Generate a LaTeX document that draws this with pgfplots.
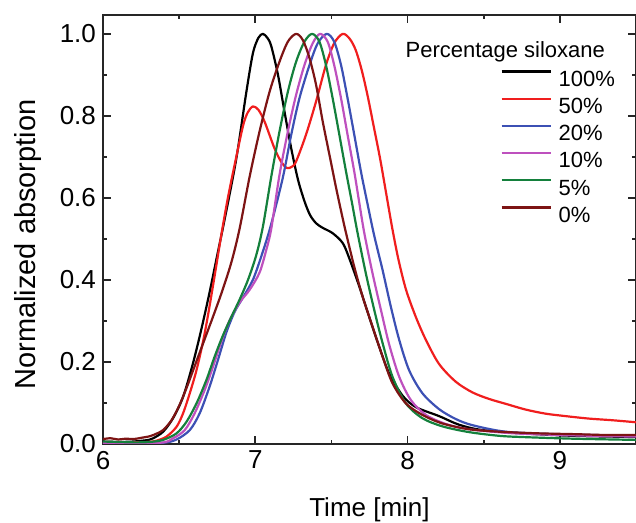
\documentclass[border=0pt]{standalone}
\usepackage{fontspec}
\setmainfont{Liberation Sans}
\usepackage{pgfplots}
\pgfplotsset{compat=1.18}

\definecolor{cRed}{RGB}{240,30,30}
\definecolor{cBlue}{RGB}{60,80,180}
\definecolor{cMag}{RGB}{190,80,190}
\definecolor{cGreen}{RGB}{20,128,60}
\definecolor{cMaroon}{RGB}{125,20,20}

\begin{document}
\begin{tikzpicture}
\begin{axis}[
  name=ax,
  scale only axis,
  width=266.5pt, height=214.5pt,
  xmin=6, xmax=9.5, ymin=0, ymax=1.046,
  xtick={6,7,8,9}, minor x tick num=1,
  ytick={0,0.2,0.4,0.6,0.8,1}, minor y tick num=1,
  tick align=inside,
  major tick length=4pt, minor tick length=2pt,
  axis line style={black!85, line width=0.8pt},
  tick style={black!85, line width=0.8pt},
  yticklabel style={/pgf/number format/fixed, /pgf/number format/fixed zerofill, /pgf/number format/precision=1},
  /pgf/number format/assume math mode=true,
  tick label style={font=\fontsize{13}{15}\selectfont},
  xlabel={Time [min]}, ylabel={Normalized absorption},
  xlabel style={font=\fontsize{13}{15}\selectfont, at={(axis description cs:0.5,-0.170)}, anchor=base},
  ylabel style={font=\fontsize{14.5}{16}\selectfont, at={(axis description cs:-0.126,0.465)}, anchor=base},
  legend style={at={(0.745,0.872)}, anchor=north west, draw=none, fill=none,
    inner sep=0pt, font=\fontsize{11}{13}\selectfont, row sep=5.6pt,
    nodes={inner sep=0pt, text height=8pt, text depth=0pt},
    /tikz/every odd column/.append style={column sep=3.5pt}},
  legend cell align=left,
  legend image code/.code={\draw[#1] (0pt,3.4pt) -- (24.5pt,3.4pt);},
  every axis plot/.append style={line width=1.1pt, line join=round, smooth, tension=0.5},
]
% 100%
\addplot[black] coordinates {
(6.0,0.006) (6.1,0.005) (6.2,0.006) (6.3,0.010) (6.33,0.014) (6.395,0.030)
(6.46,0.063) (6.526,0.115) (6.591,0.197) (6.646,0.28) (6.70,0.37) (6.75,0.46)
(6.80,0.55) (6.876,0.697) (6.94,0.855) (6.984,0.952) (7.02,0.99) (7.05,1.0)
(7.08,0.99) (7.105,0.97) (7.149,0.9) (7.192,0.81) (7.236,0.721) (7.28,0.645)
(7.323,0.592) (7.36,0.558) (7.40,0.538) (7.443,0.527) (7.508,0.514)
(7.574,0.490) (7.617,0.453) (7.683,0.384) (7.748,0.310) (7.814,0.237) (7.879,0.172)
(7.967,0.118) (8.054,0.090) (8.207,0.068) (8.338,0.047) (8.49,0.034) (8.75,0.026)
(9.08,0.020) (9.5,0.017)
};
\addlegendentry{100\%}
% 50%
\addplot[cRed] coordinates {
(6.0,0.005) (6.2,0.004) (6.3,0.005) (6.35,0.008) (6.417,0.018) (6.483,0.042)
(6.526,0.075) (6.57,0.124) (6.614,0.180) (6.657,0.250) (6.69,0.315) (6.733,0.41)
(6.777,0.51) (6.82,0.60) (6.864,0.680) (6.919,0.775) (6.95,0.808) (6.984,0.823)
(7.02,0.815) (7.061,0.786) (7.126,0.721) (7.17,0.688) (7.207,0.673) (7.24,0.676)
(7.268,0.689) (7.333,0.754) (7.399,0.835) (7.464,0.924) (7.518,0.977) (7.574,1.0)
(7.62,0.988) (7.66,0.96) (7.70,0.91) (7.74,0.845) (7.78,0.77) (7.82,0.695)
(7.86,0.61) (7.90,0.525) (7.94,0.45) (7.99,0.376) (8.054,0.310) (8.12,0.254)
(8.207,0.195) (8.316,0.152) (8.425,0.126) (8.534,0.110) (8.644,0.098) (8.775,0.084)
(8.906,0.074) (9.037,0.068) (9.19,0.062) (9.342,0.058) (9.5,0.053)
};
\addlegendentry{50\%}
% 20%
\addplot[cBlue] coordinates {
(6.0,0.003) (6.2,0.002) (6.395,0.003) (6.483,0.011) (6.57,0.034) (6.635,0.075)
(6.70,0.140) (6.755,0.205) (6.81,0.272) (6.864,0.322) (6.919,0.357) (6.984,0.40)
(7.039,0.457) (7.10,0.53) (7.18,0.648) (7.236,0.754) (7.29,0.843) (7.356,0.924)
(7.41,0.977) (7.469,1.0) (7.518,0.981) (7.563,0.924) (7.606,0.843) (7.65,0.754)
(7.694,0.664) (7.74,0.58) (7.781,0.508) (7.836,0.424) (7.89,0.335) (7.945,0.254)
(8.01,0.180) (8.097,0.124) (8.207,0.085) (8.316,0.061) (8.425,0.046) (8.644,0.030)
(8.97,0.024) (9.5,0.020)
};
\addlegendentry{20\%}
% 10%
\addplot[cMag] coordinates {
(6.0,0.003) (6.373,0.003) (6.46,0.014) (6.537,0.034) (6.602,0.075) (6.668,0.132)
(6.722,0.188) (6.777,0.250) (6.832,0.302) (6.897,0.345) (6.963,0.376) (7.028,0.418)
(7.072,0.473) (7.105,0.525) (7.159,0.656) (7.214,0.762) (7.268,0.851) (7.323,0.924)
(7.377,0.977) (7.425,1.0) (7.475,0.981) (7.518,0.924) (7.563,0.843) (7.606,0.754)
(7.65,0.664) (7.68,0.595) (7.716,0.514) (7.77,0.416) (7.825,0.327) (7.879,0.243)
(7.945,0.164) (8.022,0.107) (8.12,0.071) (8.25,0.049) (8.403,0.036) (8.7,0.026)
(9.1,0.021) (9.5,0.018)
};
\addlegendentry{10\%}
% 5%
\addplot[cGreen] coordinates {
(6.0,0.006) (6.2,0.004) (6.308,0.005) (6.395,0.010) (6.483,0.026) (6.548,0.054)
(6.614,0.099) (6.679,0.156) (6.733,0.213) (6.788,0.265) (6.843,0.310) (6.897,0.352)
(6.952,0.40) (7.006,0.46) (7.05,0.53) (7.105,0.652) (7.159,0.762) (7.214,0.859)
(7.268,0.932) (7.323,0.981) (7.373,1.0) (7.421,0.981) (7.464,0.924) (7.508,0.843)
(7.552,0.754) (7.596,0.664) (7.634,0.59) (7.672,0.514) (7.726,0.416) (7.781,0.327)
(7.836,0.246) (7.901,0.164) (7.989,0.099) (8.097,0.063) (8.229,0.043) (8.403,0.029)
(8.6,0.020) (8.75,0.017) (9.08,0.013) (9.5,0.010)
};
\addlegendentry{5\%}
% 0%
\addplot[cMaroon] coordinates {
(6.0,0.012) (6.05,0.014) (6.1,0.011) (6.15,0.013) (6.2,0.012) (6.25,0.015)
(6.308,0.019) (6.35,0.025) (6.395,0.034) (6.45,0.058) (6.50,0.093) (6.55,0.138)
(6.60,0.188) (6.66,0.248) (6.72,0.308) (6.78,0.37) (6.843,0.443) (6.897,0.525)
(6.963,0.652) (7.028,0.762) (7.094,0.859) (7.159,0.932) (7.214,0.981) (7.268,1.0)
(7.312,0.985) (7.356,0.941) (7.399,0.876) (7.443,0.786) (7.487,0.705) (7.531,0.624)
(7.574,0.55) (7.60,0.508) (7.65,0.432) (7.705,0.359) (7.77,0.286) (7.836,0.213)
(7.901,0.148) (7.989,0.099) (8.097,0.071) (8.229,0.050) (8.403,0.036) (8.6,0.030)
(8.86,0.026) (9.1,0.024) (9.3,0.022) (9.5,0.022)
};
\addlegendentry{0\%}
\node[anchor=base west, font=\fontsize{11}{13}\selectfont, inner sep=0pt]
  at (rel axis cs:0.567,0.900) {Percentage siloxane};
\coordinate (SW) at (rel axis cs:0,0);
\coordinate (NE) at (rel axis cs:1,1);
\end{axis}
\pgfresetboundingbox
\path[use as bounding box] ([shift={(-51.5pt,-39.5pt)}]SW) rectangle ([shift={(0pt,7.5pt)}]NE);
\end{tikzpicture}
\end{document}
